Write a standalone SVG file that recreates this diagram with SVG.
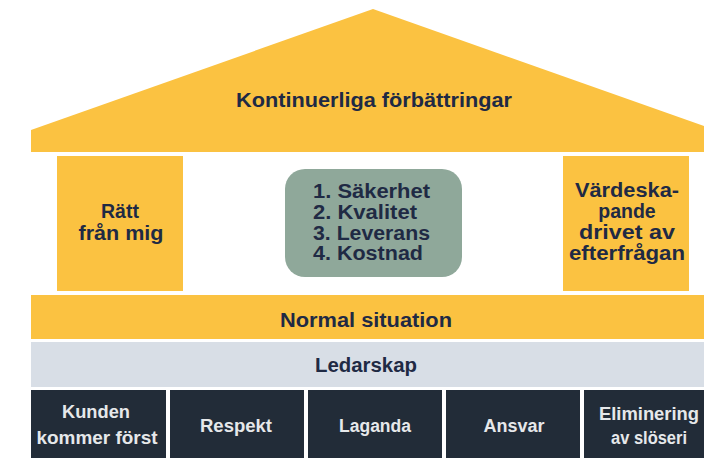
<svg xmlns="http://www.w3.org/2000/svg" width="704" height="458" viewBox="0 0 704 458">
<style>
.y{fill:#fbc241}
.d{fill:#222c38}
.t{font-family:"Liberation Sans",Arial,sans-serif;font-weight:bold;font-size:19.5px;fill:#1f2a44}
.w{font-family:"Liberation Sans",Arial,sans-serif;font-weight:bold;font-size:18px;fill:#e6e8ea}
.c{text-anchor:middle}
</style>
<rect width="704" height="458" fill="#ffffff"/>
<g id="roof">
<polygon class="y" points="31,130 373,9 704,126 704,152 31,152"/>
<text class="t c" x="374" y="107" textLength="276" lengthAdjust="spacingAndGlyphs">Kontinuerliga förbättringar</text>
</g>
<g id="pillar-left">
<rect class="y" x="57" y="156" width="126" height="135"/>
<text class="t c" x="120" y="218">Rätt</text>
<text class="t c" x="121" y="240" textLength="85" lengthAdjust="spacingAndGlyphs">från mig</text>
</g>
<g id="priorities">
<rect x="285" y="169" width="177" height="108" rx="20" fill="#8fa89a"/>
<text class="t" x="313" y="198" textLength="117" lengthAdjust="spacingAndGlyphs">1. Säkerhet</text>
<text class="t" x="313" y="219" textLength="104" lengthAdjust="spacingAndGlyphs">2. Kvalitet</text>
<text class="t" x="313" y="240" textLength="117" lengthAdjust="spacingAndGlyphs">3. Leverans</text>
<text class="t" x="313" y="260" textLength="110" lengthAdjust="spacingAndGlyphs">4. Kostnad</text>
</g>
<g id="pillar-right">
<rect class="y" x="563" y="156" width="126" height="135"/>
<text class="t c" x="627" y="197" textLength="104" lengthAdjust="spacingAndGlyphs">Värdeska-</text>
<text class="t c" x="627" y="218">pande</text>
<text class="t c" x="627" y="239" textLength="96" lengthAdjust="spacingAndGlyphs">drivet av</text>
<text class="t c" x="627" y="260" textLength="116" lengthAdjust="spacingAndGlyphs">efterfrågan</text>
</g>
<g id="normal-situation">
<rect class="y" x="31" y="295" width="673" height="44"/>
<text class="t c" x="366" y="327" textLength="172" lengthAdjust="spacingAndGlyphs">Normal situation</text>
</g>
<g id="ledarskap">
<rect x="31" y="342" width="673" height="45" fill="#d8dee6"/>
<text class="t c" x="366" y="372" textLength="102" lengthAdjust="spacingAndGlyphs">Ledarskap</text>
</g>
<g id="kunden">
<rect class="d" x="31" y="390" width="135" height="68"/>
<text class="w c" x="96" y="418" textLength="68" lengthAdjust="spacingAndGlyphs">Kunden</text>
<text class="w c" x="97" y="444" textLength="121" lengthAdjust="spacingAndGlyphs">kommer först</text>
</g>
<g id="respekt">
<rect class="d" x="170" y="390" width="134" height="68"/>
<text class="w c" x="236" y="432" textLength="72" lengthAdjust="spacingAndGlyphs">Respekt</text>
</g>
<g id="laganda">
<rect class="d" x="308" y="390" width="134" height="68"/>
<text class="w c" x="375" y="432" textLength="72" lengthAdjust="spacingAndGlyphs">Laganda</text>
</g>
<g id="ansvar">
<rect class="d" x="446" y="390" width="134" height="68"/>
<text class="w c" x="514" y="432" textLength="61" lengthAdjust="spacingAndGlyphs">Ansvar</text>
</g>
<g id="eliminering">
<rect class="d" x="584" y="390" width="120" height="68"/>
<text class="w c" x="649" y="420" textLength="100" lengthAdjust="spacingAndGlyphs">Eliminering</text>
<text class="w c" x="649" y="444" textLength="76" lengthAdjust="spacingAndGlyphs">av slöseri</text>
</g>
<g id="connectors"></g>
</svg>
